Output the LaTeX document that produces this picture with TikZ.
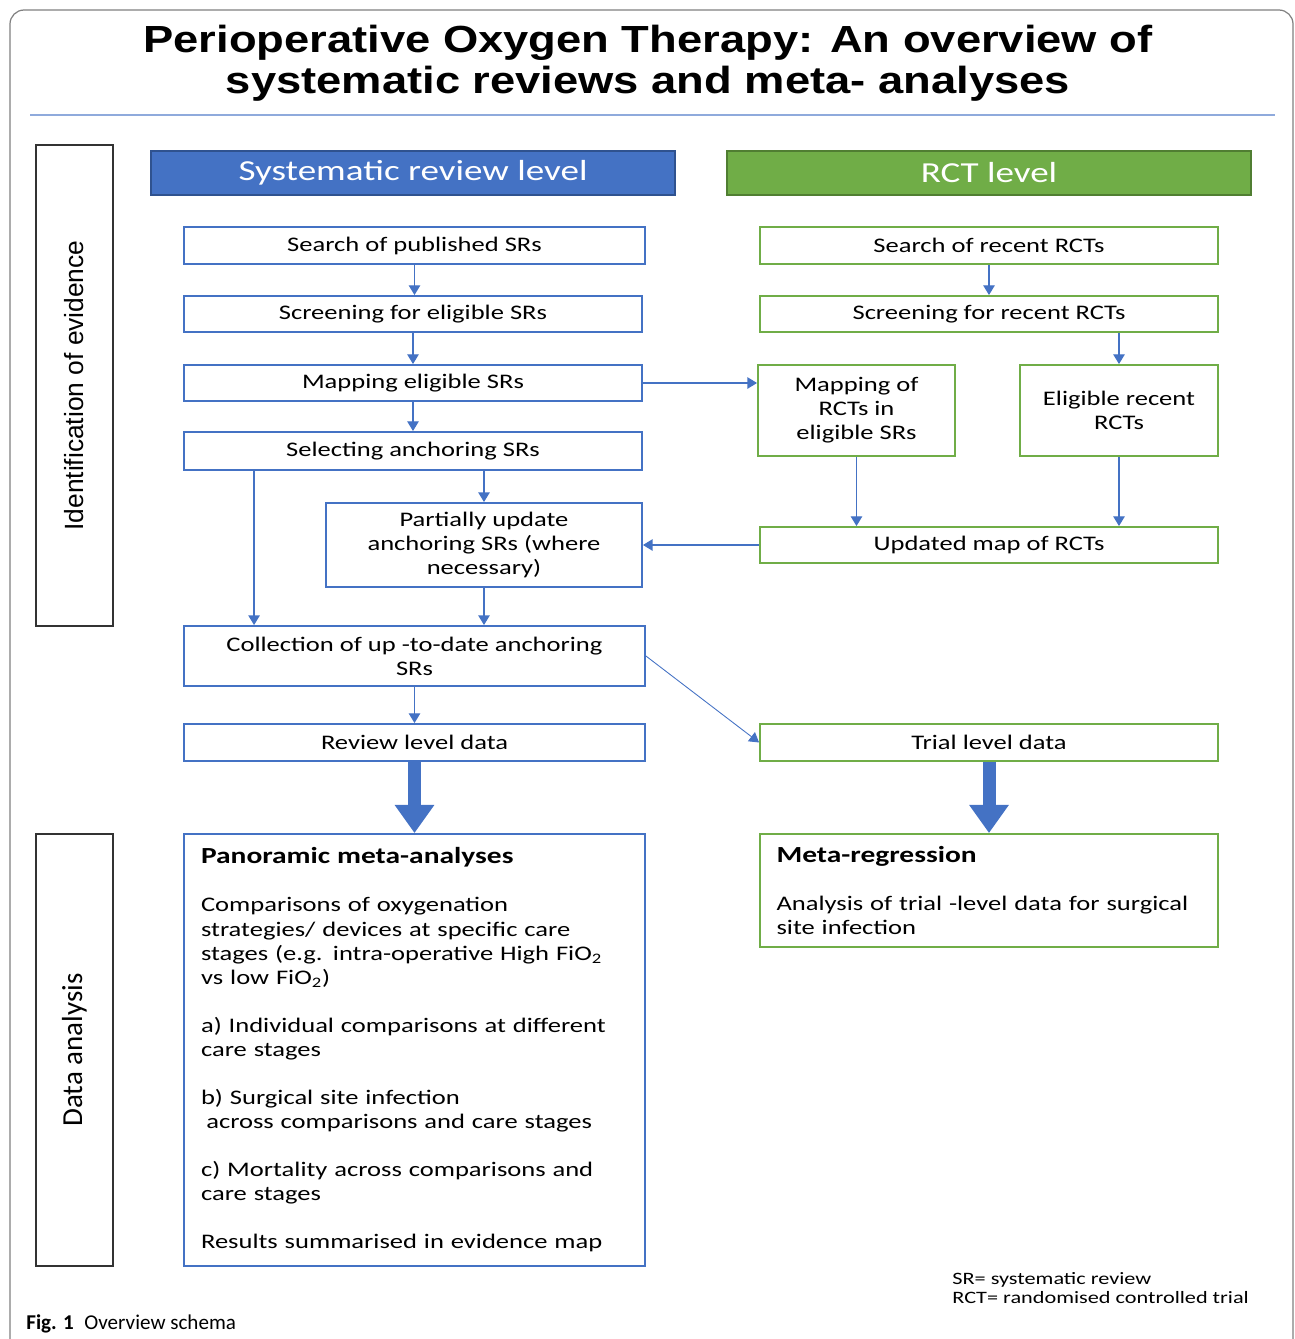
\documentclass[tikz,border=0pt]{standalone}
\usepackage{fontspec}
\setmainfont{Carlito}[FakeStretch=1.28]
\newfontfamily\titlefont{Liberation Sans}[FakeStretch=1.2]
\newfontfamily\sidefont{Liberation Sans}
\newfontfamily\capfont{Carlito}
\usepackage{tikz}
\usetikzlibrary{calc}
\usetikzlibrary{arrows.meta}
\definecolor{srblue}{HTML}{4472C4}
\definecolor{srbluedark}{HTML}{2F528F}
\definecolor{rctgreen}{HTML}{70AD47}
\definecolor{rctgreendark}{HTML}{507E32}
\definecolor{rulecol}{HTML}{8FAADC}
\definecolor{framegray}{HTML}{808080}
\tikzset{%
  srbox/.style    = {draw=srblue, line width=1.1pt, rectangle, inner sep=2pt,
    align=center, font=\fontsize{11.8}{13.7}\selectfont},
  rctbox/.style   = {srbox, draw=rctgreen},
  levelhead/.style = {rectangle, line width=1pt, text=white, minimum width=10.48cm,
    minimum height=0.88cm, font=\fontsize{16.5}{18}\selectfont},
  sidebox/.style  = {draw=black!80, line width=1pt, rotate=90, minimum height=1.54cm},
  arr/.style      = {draw=srblue, line width=0.7pt, -{Triangle[width=6.5pt,length=5.5pt]}},
  bigarr/.style   = {draw=srblue, line width=7.4pt, -{Triangle[width=21.5pt,length=16pt]}}
}
\begin{document}
\begin{tikzpicture}[x=0.02cm, y=-0.02cm]
    \useasboundingbox (0,0) rectangle (1295,1339);
    \begin{scope}
      \clip (0,0) rectangle (1295,1339);
      \draw[framegray, line width=0.7pt, rounded corners=8pt] (10,10) rectangle (1293,1380);
    \end{scope}

    %title
    \node[align=center, font=\titlefont\bfseries\fontsize{21.5}{23.5}\selectfont] (title) at (648,63)
      {Perioperative Oxygen Therapy: An overview of\\systematic reviews and meta- analyses};
    \draw[rulecol, line width=0.8pt] (30,115) -- (1275,115);

    %side labels
    \node[sidebox, minimum width=9.62cm, font=\sidefont\fontsize{15}{17}\selectfont] (idbox) at (74.5,385.5) {Identification of evidence};
    \node[sidebox, minimum width=8.64cm, font=\capfont\fontsize{16.5}{19}\selectfont] (dabox) at (74.5,1050) {Data analysis};

    %level headers
    \node[levelhead, fill=srblue, draw=srbluedark] (srhead) at (413,173) {Systematic review level};
    \node[levelhead, fill=rctgreen, draw=rctgreendark] (rcthead) at (989,173) {RCT level};

    %systematic review column
    \node[srbox, minimum width=9.22cm, minimum height=0.74cm] (srsearch) at (414.5,245.5) {Search of published SRs};
    \node[srbox, minimum width=9.16cm, minimum height=0.72cm] (srscreen) at (413,314) {Screening for eligible SRs};
    \node[srbox, minimum width=9.16cm, minimum height=0.72cm] (srmap) at (413,383) {Mapping eligible SRs};
    \node[srbox, minimum width=9.16cm, minimum height=0.76cm] (srselect) at (413,451) {Selecting anchoring SRs};
    \node[srbox, minimum width=6.32cm, minimum height=1.68cm] (srupdate) at (484,545) {Partially update\\anchoring SRs (where\\necessary)};
    \node[srbox, minimum width=9.22cm, minimum height=1.2cm] (srcollect) at (414.5,656) {Collection of up -to-date anchoring\\SRs};
    \node[srbox, minimum width=9.22cm, minimum height=0.74cm] (srdata) at (414.5,742.5) {Review level data};
    \node[srbox, align=left, text width=8.54cm, minimum width=9.22cm, minimum height=8.64cm] (panoramic) at (414.5,1050)
      {{\bfseries\fontsize{13.1}{16}\selectfont Panoramic meta-analyses}\\[13.7pt]
       Comparisons of oxygenation\\
       strategies/ devices at specific care\\
       stages (e.g. intra-operative High FiO\textsubscript{2}\\
       vs low FiO\textsubscript{2})\\[13.7pt]
       a) Individual comparisons at different\\
       care stages\\[13.7pt]
       b) Surgical site infection\\
       \hspace*{3pt}across comparisons and care stages\\[13.7pt]
       c) Mortality across comparisons and\\
       care stages\\[13.7pt]
       Results summarised in evidence map};

    %RCT column
    \node[rctbox, minimum width=9.16cm, minimum height=0.74cm] (rctsearch) at (989,245.5) {Search of recent RCTs};
    \node[rctbox, minimum width=9.16cm, minimum height=0.72cm] (rctscreen) at (989,314) {Screening for recent RCTs};
    \node[rctbox, minimum width=3.94cm, minimum height=1.82cm] (rctmap) at (856.5,410.5) {Mapping of\\RCTs in\\eligible SRs};
    \node[rctbox, minimum width=3.96cm, minimum height=1.82cm] (rctelig) at (1119,410.5) {Eligible recent\\RCTs};
    \node[rctbox, minimum width=9.16cm, minimum height=0.72cm] (rctupdated) at (989,545) {Updated map of RCTs};
    \node[rctbox, minimum width=9.16cm, minimum height=0.74cm] (rctdata) at (989,742.5) {Trial level data};
    \node[rctbox, align=left, text width=8.5cm, minimum width=9.16cm, minimum height=2.26cm] (metareg) at (989,890.5)
      {{\bfseries\fontsize{13.1}{16}\selectfont Meta-regression}\\[13.7pt]
       Analysis of trial -level data for surgical\\
       site infection};

    %arrows, systematic review side
    \draw[arr] (srsearch.south) -- (srsearch.south |- srscreen.north);
    \draw[arr] (srscreen.south) -- (srmap.north);
    \draw[arr] (srmap.south) -- (srselect.north);
    \draw[arr] (srselect.south -| srupdate.north) -- (srupdate.north);
    \coordinate (selfoot) at ([xshift=1.42cm]srselect.south west);
    \draw[arr] (selfoot) -- (selfoot |- srcollect.north);
    \draw[arr] (srupdate.south) -- (srupdate.south |- srcollect.north);
    \draw[arr] (srcollect.south) -- (srdata.north);

    %arrows, RCT side
    \draw[arr] (srmap.east) -- (srmap.east -| rctmap.west);
    \draw[arr] (rctsearch.south) -- (rctscreen.north);
    \draw[arr] (rctscreen.south -| rctelig.north) -- (rctelig.north);
    \draw[arr] (rctmap.south) -- (rctmap.south |- rctupdated.north);
    \draw[arr] (rctelig.south) -- (rctelig.south |- rctupdated.north);
    \draw[arr] (rctupdated.west) -- (srupdate.east);
    \draw[arr, line width=0.5pt] (srcollect.east) -- (rctdata.west);

    %analysis arrows
    \draw[bigarr] (srdata.south) -- (panoramic.north);
    \draw[bigarr] (rctdata.south) -- (metareg.north);

    %notes
    \node[anchor=west, inner sep=0pt, align=left, font=\fontsize{9.9}{11.3}\selectfont] (abbrev) at (952,1288)
      {SR= systematic review\\RCT= randomised controlled trial};
    \node[anchor=west, inner sep=0pt, font=\capfont\fontsize{12}{14}\selectfont] (caption) at (26,1324)
      {\textbf{Fig. 1}\enspace Overview schema};
\end{tikzpicture}
\end{document}
